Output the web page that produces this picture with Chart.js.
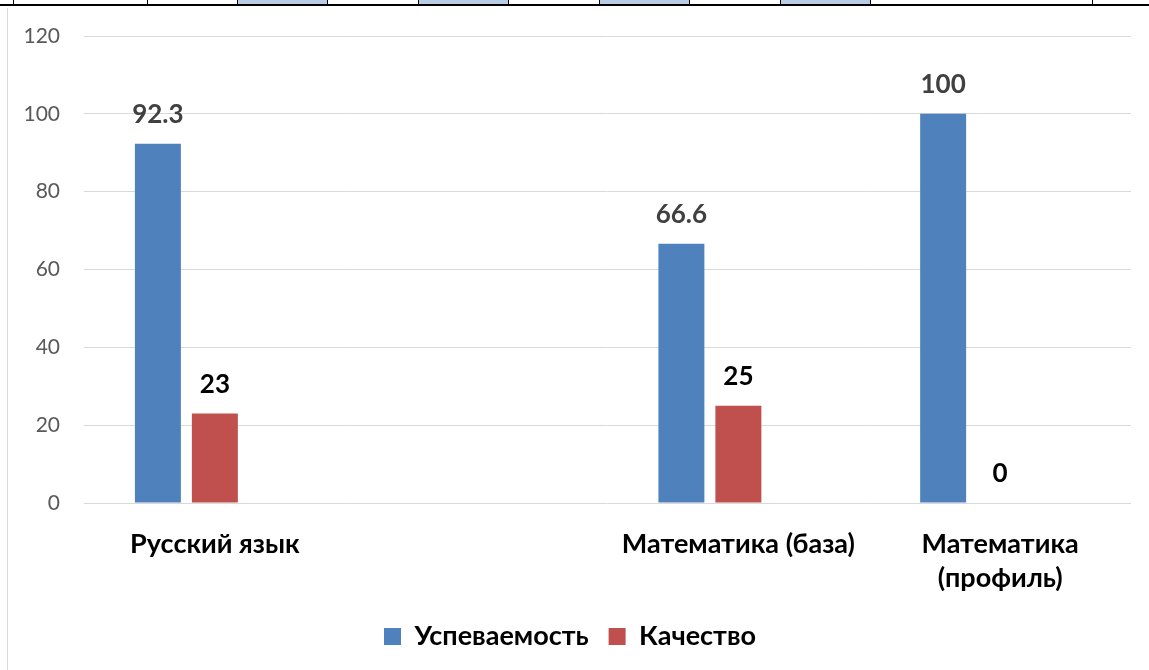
<!DOCTYPE html>
<html>
<head>
<meta charset="utf-8">
<title>Успеваемость и качество</title>
<script src="https://cdn.jsdelivr.net/npm/chart.js@4/dist/chart.umd.min.js"></script>
<style>
	html, body {
		margin: 0;
		padding: 0;
		background: #fff;
		overflow: hidden;
	}
	#tableRow {
		position: absolute;
		left: 0;
		top: 0;
		width: 1149px;
		height: 4px;
		border-bottom: 2px solid #000;
	}
	.cell {
		position: absolute;
		top: 0;
		height: 4px;
		border-left: 1px solid #000;
	}
	.blue {
		background: #b8cce4;
	}
	#frame {
		position: absolute;
		left: 7px;
		top: 8px;
		width: 1px;
		height: 662px;
		background: #d9d9d9;
	}
	#wrap {
		position: absolute;
		left: 9px;
		top: 8px;
		width: 1140px;
		height: 680px;
	}
</style>
</head>
<body>
<div id="tableRow"></div>
<div id="frame"></div>
<div id="wrap"><canvas id="myChart"></canvas></div>
<script>
// table strip above the chart (cell edges as on the page)
var cellEdges = [13, 147, 237, 327, 418, 508, 599, 689, 780, 870, 1092, 1149];
var blueCells = [2, 4, 6, 8];
var row = document.getElementById("tableRow");
for (var c = 0; c < cellEdges.length - 1; c++) {
	var d = document.createElement("div");
	d.className = "cell" + (blueCells.indexOf(c) >= 0 ? " blue" : "");
	d.style.left = cellEdges[c] + "px";
	d.style.width = cellEdges[c + 1] - cellEdges[c] - 1 + "px";
	row.appendChild(d);
}

// data
var categories = ["Русский язык", "", "Математика (база)", ["Математика", "(профиль)"]];
var uspevaemost = [92.3, null, 66.6, 100];
var kachestvo = [23, null, 25, 0];
var emptySeries = [null, null, null, null];
var yTicks = [0, 20, 40, 60, 80, 100, 120];

var FONT = "Lato, 'Open Sans', sans-serif";

// value labels over bars
var barLabels = {
	id: "barLabels",
	afterDatasetsDraw: function (chart) {
		var ctx = chart.ctx;
		ctx.save();
		ctx.font = "bold 26px " + FONT;
		ctx.textAlign = "center";
		ctx.textBaseline = "middle";
		chart.data.datasets.forEach(function (ds, i) {
			if (!ds.labelColor) return;
			var meta = chart.getDatasetMeta(i);
			meta.data.forEach(function (bar, j) {
				var v = ds.data[j];
				if (v === null || v === undefined) return;
				ctx.fillStyle = ds.labelColor;
				ctx.fillText(String(v), bar.x, bar.y - 29);
			});
		});
		ctx.restore();
	},
};

var ctx = document.getElementById("myChart").getContext("2d");
var myChart = new Chart(ctx, {
	type: "bar",
	data: {
		labels: categories,
		datasets: [
			{
				label: "Успеваемость",
				data: uspevaemost,
				backgroundColor: "#4f81bd",
				labelColor: "#404040",
			},
			{
				label: "Качество",
				data: kachestvo,
				backgroundColor: "#c0504d",
				labelColor: "#000000",
			},
			{
				label: "",
				data: emptySeries,
				backgroundColor: "#9bbb59",
			},
		],
	},
	options: {
		responsive: true,
		maintainAspectRatio: false,
		animation: false,
		categoryPercentage: 0.653,
		barPercentage: 0.807,
		layout: {
			padding: { top: 28, right: 18, left: 0, bottom: 28 },
		},
		plugins: {
			legend: {
				position: "bottom",
				labels: {
					font: { family: FONT, size: 27, weight: "bold" },
					color: "#000",
					boxWidth: 17,
					boxHeight: 17,
					padding: 20,
					filter: function (item) {
						return item.text !== "";
					},
				},
			},
			tooltip: { enabled: false },
		},
		scales: {
			x: {
				grid: { display: false },
				border: { display: false },
				ticks: {
					font: { family: FONT, size: 27, weight: "bold", lineHeight: 1.26 },
					color: "#000",
					padding: 16,
					maxRotation: 0,
					autoSkip: false,
				},
				afterFit: function (scale) {
					scale.height = 100;
					scale.paddingTop = 0;
					scale.paddingBottom = 0;
				},
			},
			y: {
				min: 0,
				max: 120,
				afterBuildTicks: function (scale) {
					scale.ticks = yTicks.map(function (v) {
						return { value: v };
					});
				},
				grid: { color: "#d9d9d9", drawTicks: false },
				border: { display: false },
				ticks: {
					font: { family: FONT, size: 21 },
					color: "#595959",
					padding: 24,
				},
				afterFit: function (scale) {
					scale.width = 75;
					scale.paddingTop = 0;
					scale.paddingBottom = 0;
				},
			},
		},
	},
	plugins: [barLabels],
});
</script>
</body>
</html>
